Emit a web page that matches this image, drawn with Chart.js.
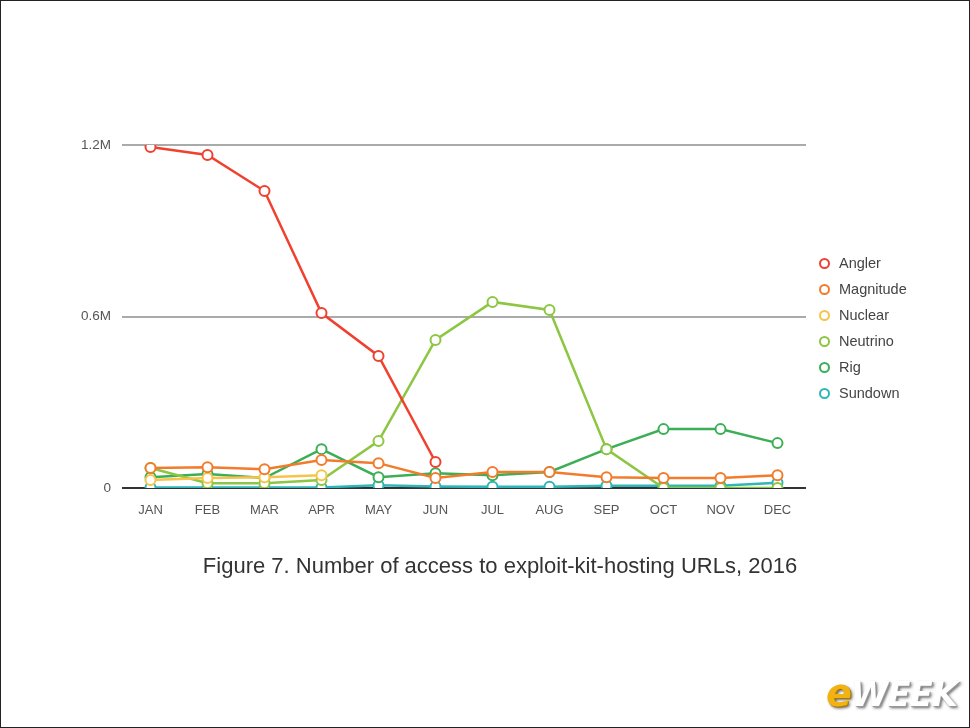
<!DOCTYPE html>
<html>
<head>
<meta charset="utf-8">
<script src="https://cdn.jsdelivr.net/npm/chart.js@4.4.0/dist/chart.umd.min.js"></script>
<style>
    html, body { margin: 0; padding: 0; background: #fff; }
    #frame {
        position: relative;
        width: 970px;
        height: 728px;
        box-sizing: border-box;
        border: 1px solid #222;
        overflow: hidden;
        font-family: "Liberation Sans", Arial, sans-serif;
    }
    #chartBox { position: absolute; left: -1px; top: -1px; width: 970px; height: 728px; }
    #legend { position: absolute; left: 818px; top: 249px; list-style: none; margin: 0; padding: 0; }
    #legend li { line-height: 18px; font-size: 14.5px; color: #444; display: flex; align-items: center; height: 26px; }
    #legend span.dot {
        display: inline-block; width: 7px; height: 7px; border-radius: 50%;
        border: 2px solid; margin-right: 9px; background: #fff;
    }
    #caption {
        position: absolute; left: 0; width: 998px; top: 552px; text-align: center;
        font-size: 22px; color: #333;
    }
    #logo {
        position: absolute; right: 12px; top: 670px;
        font-family: "DejaVu Sans", sans-serif; font-weight: bold; font-style: italic;
        font-size: 34px; letter-spacing: -1px; color: #fff;
        text-shadow: 1px 1px 0 #999, 2px 2px 3px #666;
    }
    #logo .e { color: #f2b312; font-size: 38px; text-shadow: 1px 1px 0 #a77a00, 2px 2px 3px #666; }
</style>
</head>
<body>
<div id="frame">
    <div id="chartBox"><canvas id="exploitChart"></canvas></div>
    <ul id="legend"></ul>
    <div id="caption">Figure 7. Number of access to exploit-kit-hosting URLs, 2016</div>
    <div id="logo"><span class="e">e</span>WEEK</div>
</div>
<script>
// Tháng
const months = ["JAN", "FEB", "MAR", "APR", "MAY", "JUN", "JUL", "AUG", "SEP", "OCT", "NOV", "DEC"];

// Số truy cập (triệu)
const angler    = [1.193, 1.165, 1.039, 0.612, 0.462, 0.091, null, null, null, null, null, null];
const magnitude = [0.070, 0.073, 0.066, 0.098, 0.087, 0.035, 0.056, 0.056, 0.038, 0.035, 0.035, 0.045];
const nuclear   = [0.028, 0.035, 0.038, 0.045, null, null, null, null, null, null, null, null];
const neutrino  = [0.070, 0.017, 0.017, 0.028, 0.164, 0.518, 0.651, 0.623, 0.136, 0.000, 0.000, 0.000];
const rig       = [0.038, 0.049, 0.035, 0.136, 0.038, 0.052, 0.045, 0.056, 0.136, 0.206, 0.206, 0.157];
const sundown   = [0.002, 0.002, 0.002, 0.002, 0.010, 0.005, 0.004, 0.004, 0.008, 0.008, 0.008, 0.018];

const yTicks = [0, 0.6, 1.2];
const yTickLabels = ["0", "0.6M", "1.2M"];

const seriesNames  = ["Angler", "Magnitude", "Nuclear", "Neutrino", "Rig", "Sundown"];
const seriesData   = [angler, magnitude, nuclear, neutrino, rig, sundown];
const seriesColors = ["#f0412f", "#f27c2c", "#f6c44a", "#8dc642", "#3bae56", "#2fb6b8"];

// Chú thích dạng HTML
const legendEl = document.getElementById("legend");
seriesNames.forEach((name, i) => {
    const li = document.createElement("li");
    li.innerHTML = `<span class="dot" style="border-color:${seriesColors[i]}"></span>${name}`;
    legendEl.appendChild(li);
});

function createChart() {
    const ctx = document.getElementById("exploitChart").getContext("2d");

    window.exploitChart = new Chart(ctx, {
        type: "line",
        data: {
            labels: months,
            datasets: seriesNames.map((name, i) => ({
                label: name,
                data: seriesData[i],
                borderColor: seriesColors[i],
                backgroundColor: "#fff",
                pointBackgroundColor: "#fff",
                pointBorderColor: seriesColors[i],
                pointBorderWidth: 2,
                pointRadius: 5,
                borderWidth: 2.5,
                tension: 0,
                spanGaps: false
            }))
        },
        options: {
            responsive: false,
            animation: false,
            layout: { padding: { top: 145, right: 164, bottom: 200, left: 0 } },
            plugins: { legend: { display: false }, tooltip: { enabled: false } },
            scales: {
                x: {
                    offset: true,
                    grid: { display: false, drawTicks: false },
                    border: { display: false },
                    ticks: { color: "#555", font: { size: 13, family: "Liberation Sans" }, padding: 15, maxRotation: 0 },
                    afterFit: s => { s.height = 40; }
                },
                y: {
                    min: 0,
                    max: 1.2,
                    afterBuildTicks: s => { s.ticks = yTicks.map(v => ({ value: v })); },
                    grid: {
                        drawTicks: false,
                        lineWidth: 2,
                        color: c => c.tick && c.tick.value === 0 ? "#333" : "#aaa"
                    },
                    border: { display: false },
                    ticks: {
                        color: "#555",
                        font: { size: 13.5, family: "Liberation Sans" },
                        padding: 11,
                        callback: (v) => yTickLabels[yTicks.indexOf(v)]
                    },
                    afterFit: s => { s.width = 122; }
                }
            }
        }
    });
}

const canvas = document.getElementById("exploitChart");
canvas.width = 970;
canvas.height = 728;
canvas.style.width = "970px";
canvas.style.height = "728px";
createChart();
</script>
</body>
</html>
